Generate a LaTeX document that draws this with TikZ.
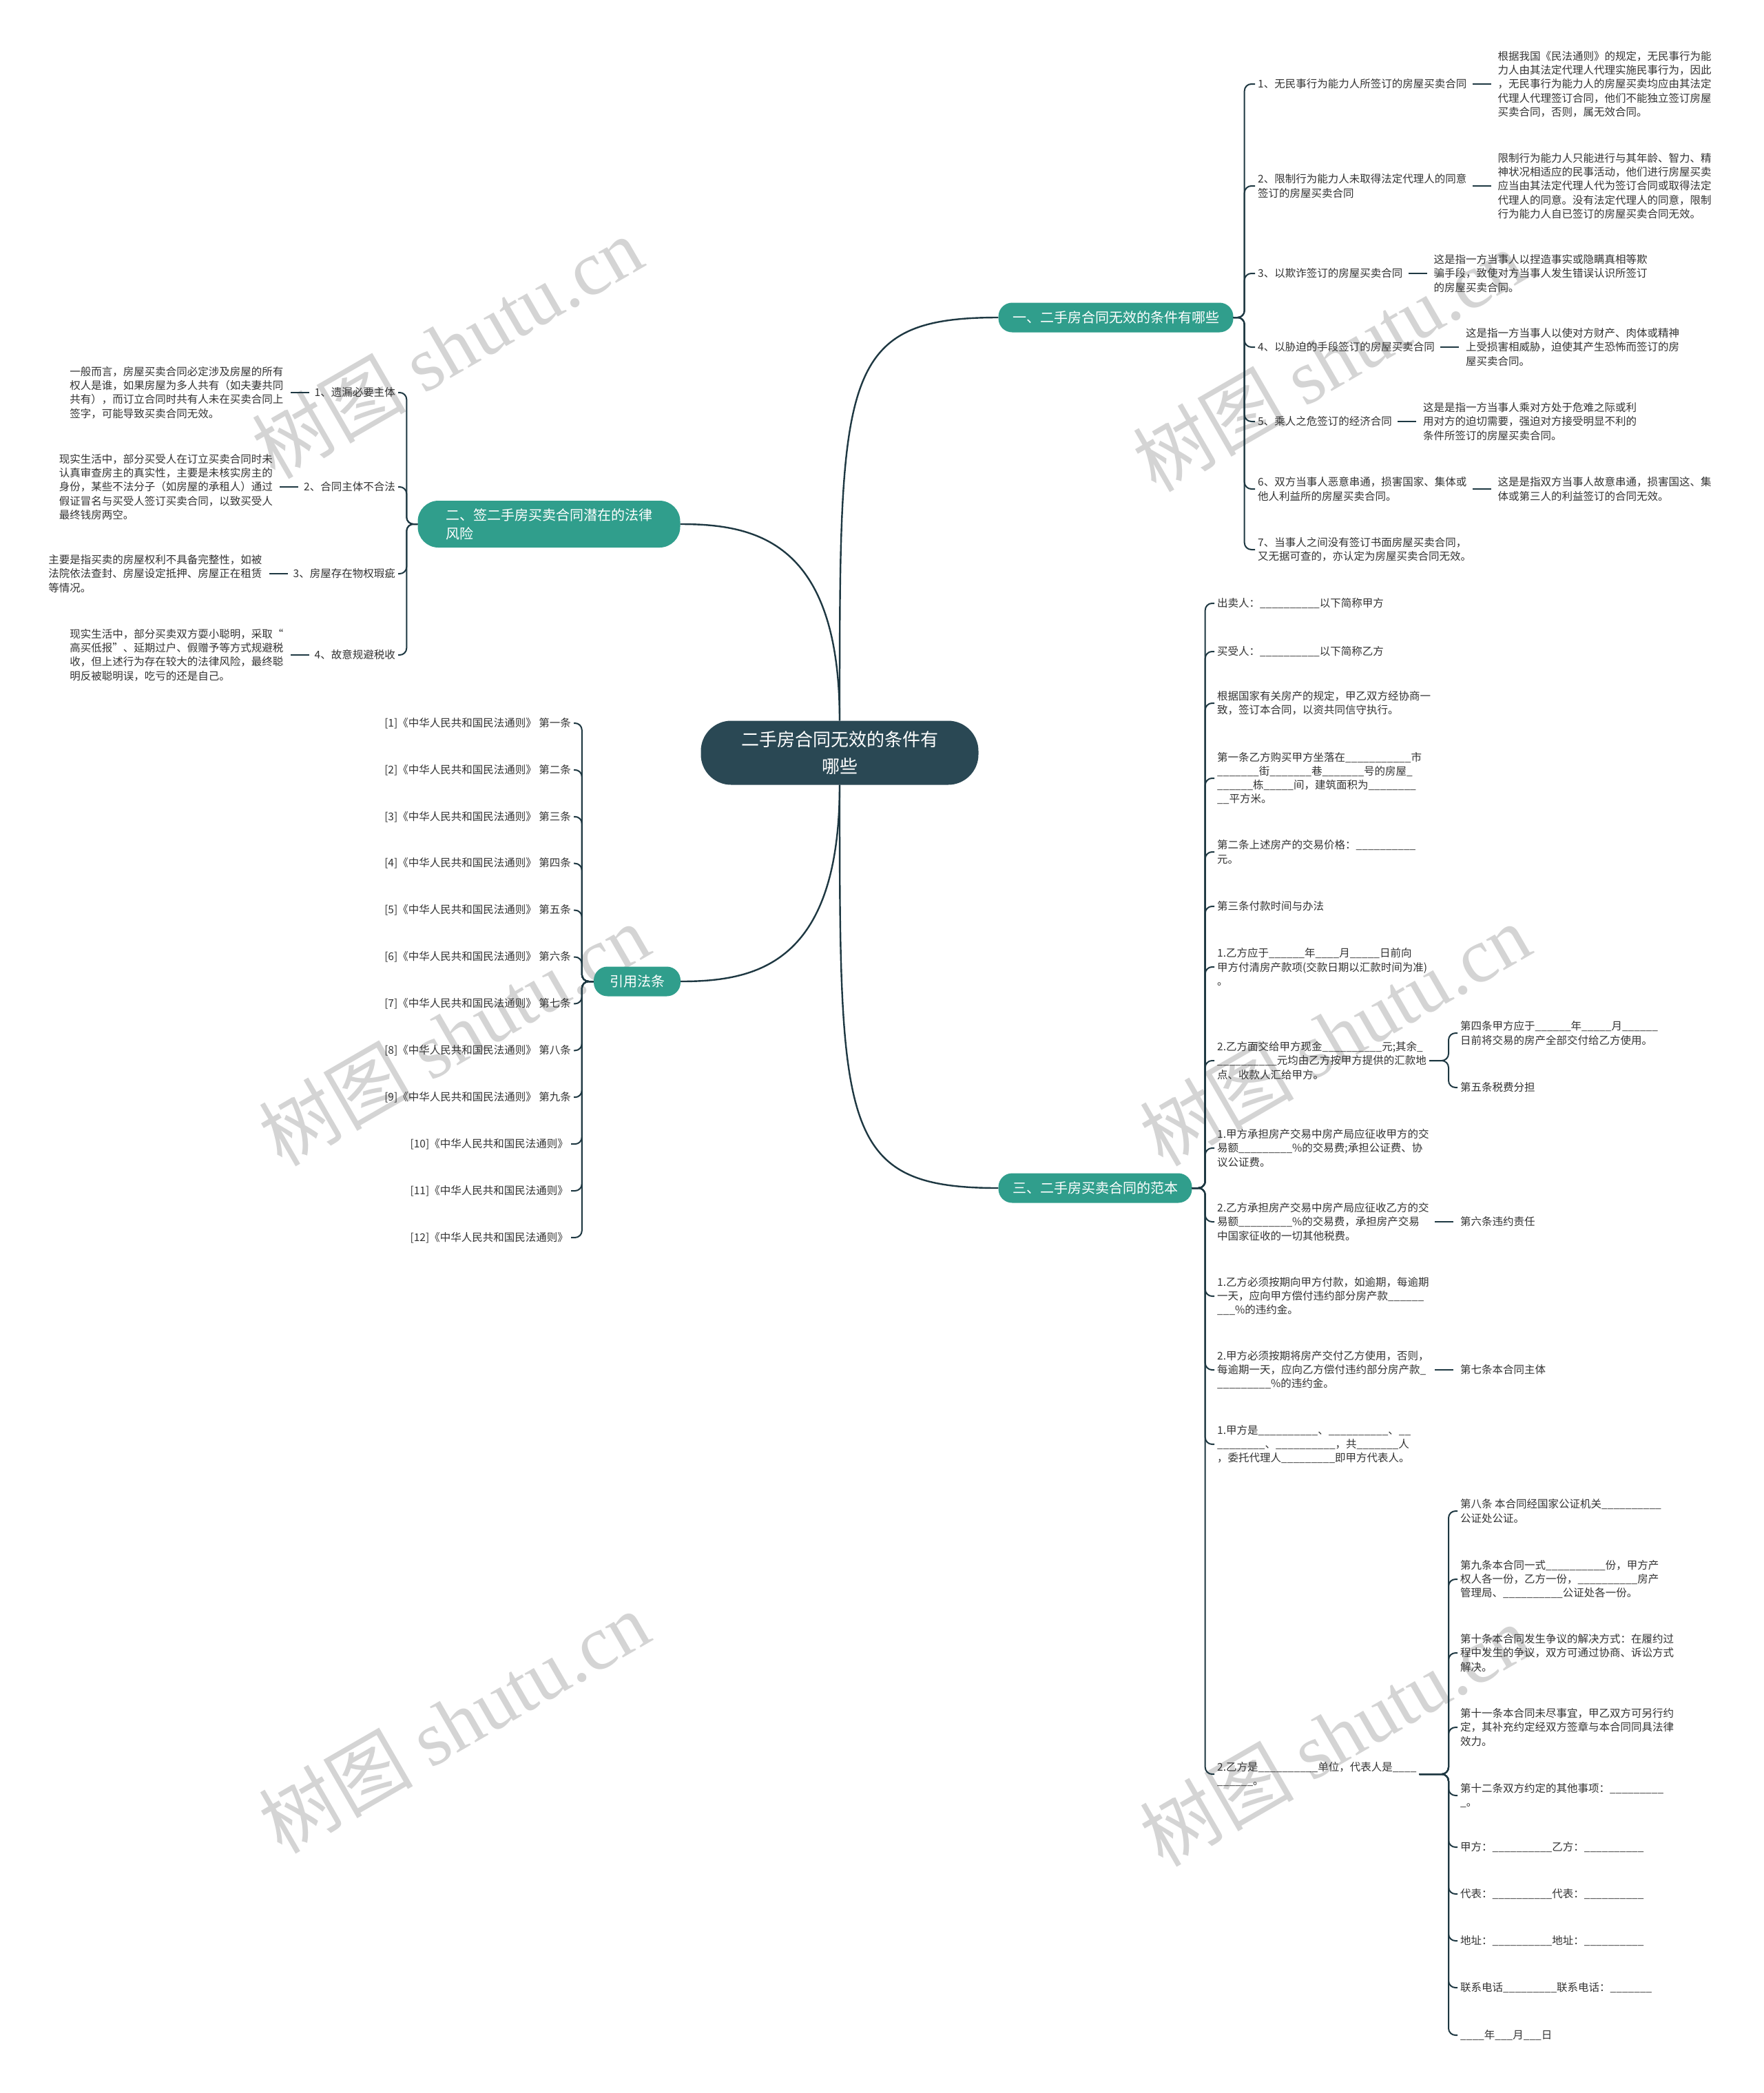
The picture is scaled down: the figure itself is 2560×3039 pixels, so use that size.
\documentclass[tikz,border=0pt]{standalone}
\usepackage{fontspec}
\setmainfont{Noto Sans CJK SC}
\newfontfamily\wmlatin{Liberation Serif}
\usetikzlibrary{positioning}
\definecolor{mmroot}{RGB}{42,72,84}
\definecolor{mmteal}{RGB}{48,158,140}
\definecolor{mmline}{RGB}{30,56,66}
\definecolor{mmtext}{RGB}{51,51,51}
\definecolor{mmmark}{RGB}{212,212,212}
\newcommand\mmsmall{\fontsize{15.5}{20.3}\selectfont}
\newcommand\mmbig{\fontsize{20}{27}\selectfont}
\newcommand\mmhuge{\fontsize{26}{39}\selectfont}
\tikzset{
  rootbox/.style={fill=mmroot, text=white, font=\mmhuge, align=center, rounded corners=44pt, minimum width=403pt, minimum height=93pt},
  branchbox/.style={fill=mmteal, text=white, font=\mmbig, rounded corners=20pt, minimum height=43pt},
  leaf/.style={font=\mmsmall, text=mmtext, align=left, inner xsep=4pt, inner ysep=2pt},
  mmedge/.style={draw=mmline, line width=2pt, rounded corners=10pt},
  mmlink/.style={draw=mmline, line width=2pt, shorten <=4pt, shorten >=6pt},
  mmcurve/.style={draw=mmline, line width=2.4pt},
  watermark/.style={text=mmmark, font=\fontsize{112}{112}\selectfont, rotate=30}
}
\begin{document}
\catcode`\_=12
\begin{tikzpicture}[x=1pt, y=-1pt]
  \useasboundingbox (0,0) rectangle (2560,3039);
  \fill[white] (0,0) rectangle (2560,3039);

  % watermarks
  \foreach \wx/\wy [count=\k] in {649/504, 1928/523, 659/1502, 1938/1502, 659/2500, 1938/2519}
    \node[watermark] (mark\k) at (\wx,\wy) {树图 {\wmlatin shutu.cn}};

  % root and main branches
  \node[rootbox] (root) at (1219,1093) {二手房合同无效的条件有\\哪些};
  \node[branchbox, minimum width=341pt] (invalid) at (1620,461) {一、二手房合同无效的条件有哪些};
  \node[branchbox, minimum width=381pt, minimum height=68pt, rounded corners=30pt, align=left] (risk) at (797,761) {二、签二手房买卖合同潜在的法律\\风险};
  \node[branchbox, minimum width=126pt] (laws) at (925,1425) {引用法条};
  \node[branchbox, minimum width=281pt] (sample) at (1590,1725) {三、二手房买卖合同的范本};

  \draw[mmcurve] (root.north) .. controls +(0,-500) and +(-230,0) .. (invalid.west);
  \draw[mmcurve] (root.north) .. controls +(0,-260) and +(110,0) .. (risk.east);
  \draw[mmcurve] (root.south) .. controls +(0,260) and +(110,0) .. (laws.east);
  \draw[mmcurve] (root.south) .. controls +(0,500) and +(-230,0) .. (sample.west);

  %--- Branch 1 ---
  \node[leaf, anchor=west] (inv1) at (1822,122) {1、无民事行为能力人所签订的房屋买卖合同};
  \node[leaf, anchor=west] (inv2) at (1822,270) {2、限制行为能力人未取得法定代理人的同意\\签订的房屋买卖合同};
  \node[leaf, anchor=west] (inv3) at (1822,397) {3、以欺诈签订的房屋买卖合同};
  \node[leaf, anchor=west] (inv4) at (1822,504) {4、以胁迫的手段签订的房屋买卖合同};
  \node[leaf, anchor=west] (inv5) at (1822,612) {5、乘人之危签订的经济合同};
  \node[leaf, anchor=west] (inv6) at (1822,710) {6、双方当事人恶意串通，损害国家、集体或\\他人利益所的房屋买卖合同。};
  \node[leaf, anchor=west] (inv7) at (1822,798) {7、当事人之间没有签订书面房屋买卖合同，\\又无据可查的，亦认定为房屋买卖合同无效。};

  \node[leaf, right=37pt of inv1] (invnote1) {根据我国《民法通则》的规定，无民事行为能\\力人由其法定代理人代理实施民事行为，因此\\，无民事行为能力人的房屋买卖均应由其法定\\代理人代理签订合同，他们不能独立签订房屋\\买卖合同，否则，属无效合同。};
  \node[leaf, right=37pt of inv2] (invnote2) {限制行为能力人只能进行与其年龄、智力、精\\神状况相适应的民事活动，他们进行房屋买卖\\应当由其法定代理人代为签订合同或取得法定\\代理人的同意。没有法定代理人的同意，限制\\行为能力人自已签订的房屋买卖合同无效。};
  \node[leaf, right=37pt of inv3] (invnote3) {这是指一方当事人以捏造事实或隐瞒真相等欺\\骗手段，致使对方当事人发生错误认识所签订\\的房屋买卖合同。};
  \node[leaf, right=37pt of inv4] (invnote4) {这是指一方当事人以使对方财产、肉体或精神\\上受损害相威胁，迫使其产生恐怖而签订的房\\屋买卖合同。};
  \node[leaf, right=37pt of inv5] (invnote5) {这是是指一方当事人乘对方处于危难之际或利\\用对方的迫切需要，强迫对方接受明显不利的\\条件所签订的房屋买卖合同。};
  \node[leaf, right=37pt of inv6] (invnote6) {这是是指双方当事人故意串通，损害国这、集\\体或第三人的利益签订的合同无效。};

  \foreach \i in {1,...,7} \draw[mmedge] (invalid.east) -- ++(16,0) |- (inv\i.west);
  \foreach \i in {1,...,6} \draw[mmlink] (inv\i.east) -- (invnote\i.west);

  %--- Branch 2 ---
  \node[leaf, anchor=east] (risk1) at (578,570) {1、遗漏必要主体};
  \node[leaf, anchor=east] (risk2) at (578,707) {2、合同主体不合法};
  \node[leaf, anchor=east] (risk3) at (578,833) {3、房屋存在物权瑕疵};
  \node[leaf, anchor=east] (risk4) at (578,951) {4、故意规避税收};

  \node[leaf, left=37pt of risk1] (risknote1) {一般而言，房屋买卖合同必定涉及房屋的所有\\权人是谁，如果房屋为多人共有（如夫妻共同\\共有），而订立合同时共有人未在买卖合同上\\签字，可能导致买卖合同无效。};
  \node[leaf, left=37pt of risk2] (risknote2) {现实生活中，部分买受人在订立买卖合同时未\\认真审查房主的真实性，主要是未核实房主的\\身份，某些不法分子（如房屋的承租人）通过\\假证冒名与买受人签订买卖合同，以致买受人\\最终钱房两空。};
  \node[leaf, left=37pt of risk3] (risknote3) {主要是指买卖的房屋权利不具备完整性，如被\\法院依法查封、房屋设定抵押、房屋正在租赁\\等情况。};
  \node[leaf, left=37pt of risk4] (risknote4) {现实生活中，部分买卖双方耍小聪明，采取“\\高买低报”、延期过户、假赠予等方式规避税\\收，但上述行为存在较大的法律风险，最终聪\\明反被聪明误，吃亏的还是自己。};

  \foreach \i in {1,...,4} \draw[mmedge] (risk.west) -- ++(-16,0) |- (risk\i.east);
  \foreach \i in {1,...,4} \draw[mmlink] (risk\i.west) -- (risknote\i.east);

  %--- Cited laws ---
  \foreach \i/\art in {1/一,2/二,3/三,4/四,5/五,6/六,7/七,8/八,9/九}
    \node[leaf, anchor=east] (law\i) at (833,{1050+67.9*(\i-1)}) {[\i]《中华人民共和国民法通则》 第\art{}条};
  \foreach \i in {10,11,12}
    \node[leaf, anchor=east] (law\i) at (829,{1050+67.9*(\i-1)}) {[\i]《中华人民共和国民法通则》};
  \foreach \i in {1,...,12} \draw[mmedge] (laws.west) -- ++(-17,0) |- (law\i.east);

  %--- Branch 3 ---
  \node[leaf, anchor=west] (samp1) at (1763,876) {出卖人：__________以下简称甲方};
  \node[leaf, anchor=west] (samp2) at (1763,946) {买受人：__________以下简称乙方};
  \node[leaf, anchor=west] (samp3) at (1763,1021) {根据国家有关房产的规定，甲乙双方经协商一\\致，签订本合同，以资共同信守执行。};
  \node[leaf, anchor=west] (samp4) at (1763,1130) {第一条乙方购买甲方坐落在___________市\\_______街_______巷_______号的房屋_\\______栋_____间，建筑面积为________\\__平方米。};
  \node[leaf, anchor=west] (samp5) at (1763,1237) {第二条上述房产的交易价格：__________\\元。};
  \node[leaf, anchor=west] (samp6) at (1763,1316) {第三条付款时间与办法};
  \node[leaf, anchor=west] (samp7) at (1763,1404) {1.乙方应于______年____月_____日前向\\甲方付清房产款项(交款日期以汇款时间为准)\\。};
  \node[leaf, anchor=west] (samp8) at (1763,1540) {2.乙方面交给甲方现金__________元;其余_\\__________元均由乙方按甲方提供的汇款地\\点、收款人汇给甲方。};
  \node[leaf, anchor=west] (samp9) at (1763,1667) {1.甲方承担房产交易中房产局应征收甲方的交\\易额_________\%的交易费;承担公证费、协\\议公证费。};
  \node[leaf, anchor=west] (samp10) at (1763,1774) {2.乙方承担房产交易中房产局应征收乙方的交\\易额_________\%的交易费，承担房产交易\\中国家征收的一切其他税费。};
  \node[leaf, anchor=west] (samp11) at (1763,1882) {1.乙方必须按期向甲方付款，如逾期，每逾期\\一天，应向甲方偿付违约部分房产款______\\___\%的违约金。};
  \node[leaf, anchor=west] (samp12) at (1763,1989) {2.甲方必须按期将房产交付乙方使用，否则，\\每逾期一天，应向乙方偿付违约部分房产款_\\_________\%的违约金。};
  \node[leaf, anchor=west] (samp13) at (1763,2097) {1.甲方是__________、__________、__\\________、__________，共_______人\\，委托代理人_________即甲方代表人。};
  \node[leaf, anchor=west] (samp14) at (1763,2576) {2.乙方是__________单位，代表人是____\\______。};

  \foreach \i in {1,...,14} \draw[mmedge] (sample.east) -- ++(19,0) |- (samp\i.west);

  % payment and duties
  \coordinate (paytrunk) at (2103,1540);
  \node[leaf, anchor=west] (pay1) at (2116,1500) {第四条甲方应于______年_____月______\\日前将交易的房产全部交付给乙方使用。};
  \node[leaf, anchor=west] (pay2) at (2116,1579) {第五条税费分担};
  \node[leaf, anchor=west] (duty) at (2116,1774) {第六条违约责任};
  \node[leaf, anchor=west] (party) at (2116,1989) {第七条本合同主体};

  \draw[mmedge] (samp8.east) -- (paytrunk) |- (pay1.west);
  \draw[mmedge] (samp8.east) -- (paytrunk) |- (pay2.west);
  \draw[mmlink] (samp10.east) -- (duty.west);
  \draw[mmlink] (samp12.east) -- (party.west);

  % closing articles
  \coordinate (signtrunk) at (2103,2576);
  \node[leaf, anchor=west] (sign1) at (2116,2194) {第八条 本合同经国家公证机关__________\\公证处公证。};
  \node[leaf, anchor=west] (sign2) at (2116,2293) {第九条本合同一式__________份，甲方产\\权人各一份，乙方一份，__________房产\\管理局、__________公证处各一份。};
  \node[leaf, anchor=west] (sign3) at (2116,2400) {第十条本合同发生争议的解决方式：在履约过\\程中发生的争议，双方可通过协商、诉讼方式\\解决。};
  \node[leaf, anchor=west] (sign4) at (2116,2508) {第十一条本合同未尽事宜，甲乙双方可另行约\\定，其补充约定经双方签章与本合同同具法律\\效力。};
  \node[leaf, anchor=west] (sign5) at (2116,2607) {第十二条双方约定的其他事项：_________\\_。};
  \node[leaf, anchor=west] (sign6) at (2116,2682) {甲方：__________乙方：__________};
  \node[leaf, anchor=west] (sign7) at (2116,2750) {代表：__________代表：__________};
  \node[leaf, anchor=west] (sign8) at (2116,2818) {地址：__________地址：__________};
  \node[leaf, anchor=west] (sign9) at (2116,2886) {联系电话_________联系电话：_______};
  \node[leaf, anchor=west] (sign10) at (2116,2955) {____年___月___日};

  \foreach \i in {1,...,10} \draw[mmedge] (samp14.east) -- (signtrunk) |- (sign\i.west);
\end{tikzpicture}
\end{document}
